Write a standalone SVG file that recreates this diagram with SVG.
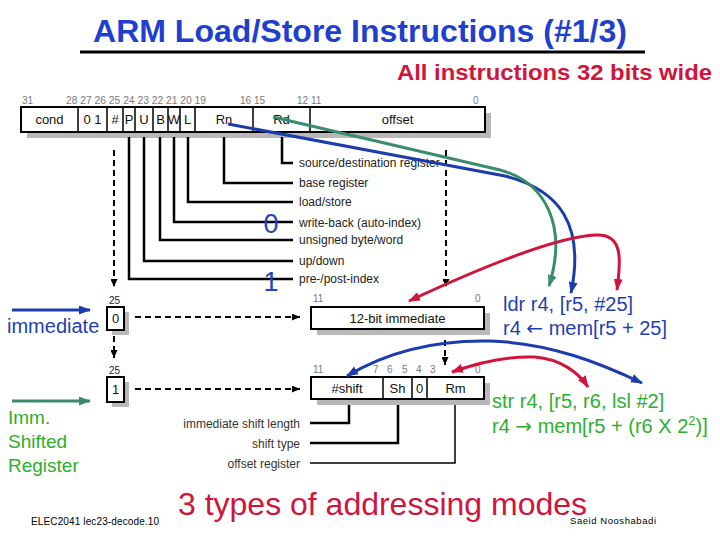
<svg xmlns="http://www.w3.org/2000/svg" width="720" height="540" viewBox="0 0 720 540">
<style>
text{font-family:"Liberation Sans",Arial,sans-serif;}
.bn{font-size:10px;fill:#7a7a7a;}
.bk{font-size:10px;fill:#222;}
.fl{font-size:13px;fill:#111;text-anchor:middle;}
.lb{font-size:12px;fill:#222;}
.lr{font-size:12px;fill:#333;text-anchor:end;}
.box{fill:#fff;stroke:#000;stroke-width:2;}
.sh{fill:#b8b8b8;}
.ln{fill:none;stroke:#000;stroke-width:2.5;}
.dv{fill:none;stroke:#000;stroke-width:1.5;}
.dash{fill:none;stroke:#000;stroke-width:2;stroke-dasharray:6 4;}
.cb{fill:none;stroke:#1c3cae;stroke-width:3;}
.cg{fill:none;stroke:#3a8c6c;stroke-width:3;}
.cr{fill:none;stroke:#d0143c;stroke-width:3;}
.ar{font-family:"DejaVu Sans",sans-serif;}
</style>
<defs>
<marker id="mk" viewBox="0 0 8 7" refX="8" refY="3.5" markerWidth="8" markerHeight="7" markerUnits="userSpaceOnUse" orient="auto"><path d="M0,0 L8,3.5 L0,7 z" fill="#000"/></marker>
<marker id="mb" viewBox="0 0 12 9" refX="11" refY="4.5" markerWidth="12" markerHeight="9" markerUnits="userSpaceOnUse" orient="auto-start-reverse"><path d="M0,0 L12,4.5 L0,9 z" fill="#1c3cae"/></marker>
<marker id="mg" viewBox="0 0 12 9" refX="11" refY="4.5" markerWidth="12" markerHeight="9" markerUnits="userSpaceOnUse" orient="auto-start-reverse"><path d="M0,0 L12,4.5 L0,9 z" fill="#3a8c6c"/></marker>
<marker id="mr" viewBox="0 0 12 9" refX="11" refY="4.5" markerWidth="12" markerHeight="9" markerUnits="userSpaceOnUse" orient="auto-start-reverse"><path d="M0,0 L12,4.5 L0,9 z" fill="#d0143c"/></marker>
</defs>
<rect width="720" height="540" fill="#fff"/>

<g id="title">
<text x="93" y="42" font-size="32" font-weight="bold" fill="#1f3fcf" textLength="534" lengthAdjust="spacingAndGlyphs">ARM Load/Store Instructions (#1/3)</text>
<line x1="80" y1="52" x2="645" y2="52" stroke="#000" stroke-width="3"/>
<text x="397" y="80" font-size="22" font-weight="bold" fill="#d0143c" textLength="315" lengthAdjust="spacingAndGlyphs">All instructions 32 bits wide</text>
</g>

<g id="instruction-format">
<text class="bn" x="22" y="104">31</text>
<text class="bn" x="66" y="104" textLength="140" lengthAdjust="spacingAndGlyphs">28 27 26 25 24 23 22 21 20 19</text>
<text class="bn" x="240" y="104">16 15</text>
<text class="bn" x="297" y="104">12 11</text>
<text class="bn" x="473" y="104">0</text>
<rect class="sh" x="27" y="113" width="464" height="25"/>
<rect class="box" x="21" y="107" width="464" height="25"/>
<path class="dv" d="M78,107V132M107,107V132M123,107V132M135,107V132M153,107V132M168,107V132M180,107V132M195,107V132M253,107V132M310,107V132"/>
<text class="fl" x="49.5" y="124">cond</text>
<text class="fl" x="92.5" y="124">0 1</text>
<text class="fl" x="115" y="124">#</text>
<text class="fl" x="129" y="124">P</text>
<text class="fl" x="144" y="124">U</text>
<text class="fl" x="160.5" y="124">B</text>
<text class="fl" x="174" y="124">W</text>
<text class="fl" x="187.5" y="124">L</text>
<text class="fl" x="224" y="124">Rn</text>
<text class="fl" x="281.5" y="124">Rd</text>
<text class="fl" x="397.5" y="124">offset</text>
</g>

<g id="field-labels">
<text class="lb" x="299" y="167">source/destination register</text>
<text class="lb" x="299" y="187">base register</text>
<text class="lb" x="299" y="206">load/store</text>
<text class="lb" x="299" y="227">write-back (auto-index)</text>
<text class="lb" x="299" y="244">unsigned byte/word</text>
<text class="lb" x="299" y="265">up/down</text>
<text class="lb" x="299" y="283">pre-/post-index</text>
</g>

<g id="immediate-mode">
<text x="7" y="333" font-size="20" fill="#1f3fb0">immediate</text>
<text class="bk" x="109" y="304">25</text>
<rect class="sh" x="112" y="312" width="17" height="23"/>
<rect class="box" x="107" y="307" width="17" height="23"/>
<text class="fl" x="115.5" y="323">0</text>
<text class="bn" x="313" y="302">11</text>
<text class="bn" x="475" y="302">0</text>
<rect class="sh" x="317" y="313" width="173" height="22"/>
<rect class="box" x="311" y="307" width="173" height="22"/>
<text class="fl" x="397.5" y="323">12-bit immediate</text>
</g>

<g id="shifted-mode">
<text x="8" y="424" font-size="19" fill="#2eae2e">Imm.</text>
<text x="8" y="448" font-size="19" fill="#2eae2e">Shifted</text>
<text x="8" y="472" font-size="19" fill="#2eae2e">Register</text>
<text class="bk" x="109" y="374">25</text>
<rect class="sh" x="112" y="382" width="17" height="25"/>
<rect class="box" x="107" y="377" width="17" height="25"/>
<text class="fl" x="115.5" y="394">1</text>
<text class="bn" x="313" y="373">11</text>
<text class="bn" x="373" y="373">7</text>
<text class="bn" x="387" y="373">6</text>
<text class="bn" x="402" y="373">5</text>
<text class="bn" x="416" y="373">4</text>
<text class="bn" x="430" y="373">3</text>
<text class="bn" x="475" y="373">0</text>
<rect class="sh" x="317" y="383" width="173" height="22"/>
<rect class="box" x="311" y="377" width="173" height="22"/>
<path class="dv" d="M383,377V399M412,377V399M427,377V399"/>
<text class="fl" x="347" y="393">#shift</text>
<text class="fl" x="397.5" y="393">Sh</text>
<text class="fl" x="419.5" y="393">0</text>
<text class="fl" x="455.5" y="393">Rm</text>
<text class="lr" x="300" y="428">immediate shift length</text>
<text class="lr" x="300" y="448">shift type</text>
<text class="lr" x="300" y="468">offset register</text>
</g>

<g id="examples">
<text x="503" y="311" font-size="20" fill="#1f3fb0">ldr r4, [r5, #25]</text>
<text x="503" y="335" font-size="20" fill="#1f3fb0">r4 <tspan class="ar">←</tspan> mem[r5 + 25]</text>
<text x="492" y="408" font-size="20" fill="#2eae2e">str r4, [r5, r6, lsl #2]</text>
<text x="492" y="433" font-size="20" fill="#2eae2e">r4 <tspan class="ar">→</tspan> mem[r5 + (r6 X 2<tspan font-size="13" dy="-8">2</tspan><tspan dy="8">)]</tspan></text>
</g>

<g id="connectors">
<path class="ln" d="M129,137V279H293M144,137V261H293M160,137V240H293M174,137V222H293M188,137V202H293M224,137V183H293M282,137V163H293"/>
<path class="ln" d="M349,405V423H310M398,405V443H310"/>
<path fill="none" stroke="#000" stroke-width="1.5" d="M455,405V463H310"/>
<path class="dash" d="M114,150V287" marker-end="url(#mk)"/>
<path class="dash" d="M446,150V287" marker-end="url(#mk)"/>
<path class="dash" d="M114,336V358" marker-end="url(#mk)"/>
<path class="dash" d="M445,340V365" marker-end="url(#mk)"/>
<path class="dash" d="M135,317H300" marker-end="url(#mk)"/>
<path class="dash" d="M135,389H300" marker-end="url(#mk)"/>
<line x1="12" y1="310" x2="90" y2="310" class="cb" marker-end="url(#mb)"/>
<line x1="12" y1="401" x2="90" y2="401" class="cg" marker-end="url(#mg)"/>
<path class="cb" d="M228,124 L505,176 C560,190 585,225 571,293" marker-end="url(#mb)"/>
<path class="cg" d="M273,117 L500,170 C545,182 568,225 549,286" marker-end="url(#mg)"/>
<path class="cr" d="M409,301 C480,268 560,235 598,235 C625,235 620,265 617,290" marker-start="url(#mr)" marker-end="url(#mr)"/>
<path class="cb" d="M347,376 C390,350 440,340 490,341 C550,343 600,363 642,383" marker-start="url(#mb)" marker-end="url(#mb)"/>
<path class="cr" d="M452,372 C480,362 510,356 535,357 C560,359 578,372 588,387" marker-start="url(#mr)" marker-end="url(#mr)"/>
</g>

<g id="bits-markers">
<text x="271" y="233" font-size="27" fill="#2244bb" text-anchor="middle">0</text>
<text x="271" y="291" font-size="27" fill="#2244bb" text-anchor="middle">1</text>
</g>

<g id="footer">
<text x="178" y="515" font-size="32" fill="#d0143c" textLength="409" lengthAdjust="spacingAndGlyphs">3 types of addressing modes</text>
<text x="570" y="524" font-size="9.5" fill="#000" textLength="86" lengthAdjust="spacing">Saeid Nooshabadi</text>
<text x="31" y="525" font-size="10" fill="#000" textLength="128" lengthAdjust="spacing">ELEC2041  lec23-decode.10</text>
</g>
</svg>
